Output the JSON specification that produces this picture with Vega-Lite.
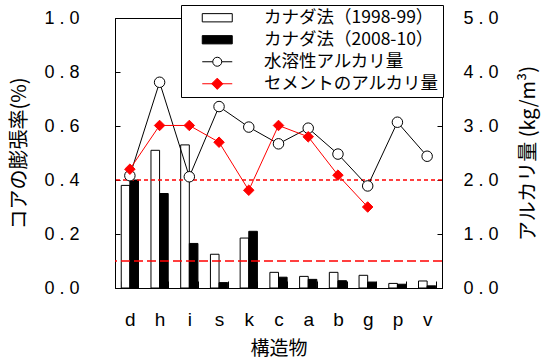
{
  "$schema": "https://vega.github.io/schema/vega-lite/v6.json",
  "autosize": {"type": "none"},
  "width": 327,
  "height": 270,
  "padding": {"left": 115, "top": 18, "right": 108, "bottom": 73},
  "background": "white",
  "config": {
    "view": {"stroke": "black", "strokeWidth": 1},
    "axis": {
      "grid": false,
      "domainColor": "black",
      "domainWidth": 1,
      "tickColor": "black",
      "tickWidth": 1,
      "labelColor": "black",
      "titleColor": "black",
      "labelFont": "Liberation Sans",
      "titleFont": "Noto Sans CJK JP",
      "titleFontWeight": "normal",
      "labelOverlap": false
    },
    "legend": {
      "orient": "none", "legendX": 66, "legendY": -13,
      "labelFont": "Noto Sans CJK JP", "labelFontSize": 17.5, "labelColor": "black", "labelLimit": 400,
      "symbolSize": 225, "symbolStrokeWidth": 1, "symbolOpacity": 1, "symbolOffset": 23.5, "labelOffset": 38,
      "rowPadding": 3, "padding": 4,
      "strokeColor": "black", "fillColor": "white"
    }
  },
  "datasets": {
    "bars": [
      {"cat": "d", "series": "カナダ法（1998-99）", "value": 0.38},
      {"cat": "d", "series": "カナダ法（2008-10）", "value": 0.40},
      {"cat": "h", "series": "カナダ法（1998-99）", "value": 0.51},
      {"cat": "h", "series": "カナダ法（2008-10）", "value": 0.35},
      {"cat": "i", "series": "カナダ法（1998-99）", "value": 0.53},
      {"cat": "i", "series": "カナダ法（2008-10）", "value": 0.165},
      {"cat": "s", "series": "カナダ法（1998-99）", "value": 0.125},
      {"cat": "s", "series": "カナダ法（2008-10）", "value": 0.02},
      {"cat": "k", "series": "カナダ法（1998-99）", "value": 0.185},
      {"cat": "k", "series": "カナダ法（2008-10）", "value": 0.21},
      {"cat": "c", "series": "カナダ法（1998-99）", "value": 0.058},
      {"cat": "c", "series": "カナダ法（2008-10）", "value": 0.04},
      {"cat": "a", "series": "カナダ法（1998-99）", "value": 0.043},
      {"cat": "a", "series": "カナダ法（2008-10）", "value": 0.032},
      {"cat": "b", "series": "カナダ法（1998-99）", "value": 0.058},
      {"cat": "b", "series": "カナダ法（2008-10）", "value": 0.027},
      {"cat": "g", "series": "カナダ法（1998-99）", "value": 0.047},
      {"cat": "g", "series": "カナダ法（2008-10）", "value": 0.022},
      {"cat": "p", "series": "カナダ法（1998-99）", "value": 0.017},
      {"cat": "p", "series": "カナダ法（2008-10）", "value": 0.014},
      {"cat": "v", "series": "カナダ法（1998-99）", "value": 0.026},
      {"cat": "v", "series": "カナダ法（2008-10）", "value": 0.008}
    ],
    "alk": [
      {"cat": "d", "series": "水溶性アルカリ量", "value": 2.08},
      {"cat": "h", "series": "水溶性アルカリ量", "value": 3.81},
      {"cat": "i", "series": "水溶性アルカリ量", "value": 2.06},
      {"cat": "s", "series": "水溶性アルカリ量", "value": 3.36},
      {"cat": "k", "series": "水溶性アルカリ量", "value": 2.98},
      {"cat": "c", "series": "水溶性アルカリ量", "value": 2.67},
      {"cat": "a", "series": "水溶性アルカリ量", "value": 2.96},
      {"cat": "b", "series": "水溶性アルカリ量", "value": 2.48},
      {"cat": "g", "series": "水溶性アルカリ量", "value": 1.89},
      {"cat": "p", "series": "水溶性アルカリ量", "value": 3.07},
      {"cat": "v", "series": "水溶性アルカリ量", "value": 2.44},
      {"cat": "d", "series": "セメントのアルカリ量", "value": 2.20},
      {"cat": "h", "series": "セメントのアルカリ量", "value": 3.01},
      {"cat": "i", "series": "セメントのアルカリ量", "value": 3.01},
      {"cat": "s", "series": "セメントのアルカリ量", "value": 2.70},
      {"cat": "k", "series": "セメントのアルカリ量", "value": 1.81},
      {"cat": "c", "series": "セメントのアルカリ量", "value": 3.01},
      {"cat": "a", "series": "セメントのアルカリ量", "value": 2.80},
      {"cat": "b", "series": "セメントのアルカリ量", "value": 2.09},
      {"cat": "g", "series": "セメントのアルカリ量", "value": 1.50}
    ],
    "refs": [
      {"v": 0.4, "d": "short"},
      {"v": 0.1, "d": "long"}
    ]
  },
  "layer": [
    {
      "layer": [
        {
          "data": {"name": "bars"},
          "mark": {"type": "bar", "strokeWidth": 1},
          "encoding": {
            "x": {
              "field": "cat", "type": "nominal",
              "sort": ["d", "h", "i", "s", "k", "c", "a", "b", "g", "p", "v"],
              "scale": {"paddingInner": 0.42, "paddingOuter": 0.21},
              "title": "構造物",
              "axis": {"labelAngle": 0, "tickBand": "extent", "tickSize": -7, "labelPadding": 29, "labelFontSize": 19, "titleFontSize": 19, "titlePadding": 10}
            },
            "xOffset": {"field": "series", "type": "nominal", "sort": ["カナダ法（1998-99）", "カナダ法（2008-10）"]},
            "y": {
              "field": "value", "type": "quantitative",
              "scale": {"domain": [0, 1], "nice": false},
              "title": "コアの膨張率(%)",
              "axis": {"orient": "left", "values": [0, 0.1, 0.2, 0.3, 0.4, 0.5, 0.6, 0.7, 0.8, 0.9, 1.0], "format": ".1f", "labelExpr": "replace(datum.label, '.', ' . ')", "labelOverlap": false, "tickSize": -5, "labelPadding": 41, "labelFontSize": 18, "titleFontSize": 20, "titlePadding": 14}
            },
            "fill": {
              "field": "series", "type": "nominal",
              "scale": {"domain": ["カナダ法（1998-99）", "カナダ法（2008-10）", "水溶性アルカリ量", "セメントのアルカリ量"], "range": ["white", "black", "white", "red"]},
              "legend": {"title": null, "labelExpr": "datum.label + ' '"}
            },
            "stroke": {
              "field": "series", "type": "nominal",
              "scale": {"domain": ["カナダ法（1998-99）", "カナダ法（2008-10）", "水溶性アルカリ量", "セメントのアルカリ量"], "range": ["black", "black", "black", "red"]},
              "legend": {"title": null, "labelExpr": "datum.label + ' '"}
            }
          }
        },
        {
          "data": {"name": "bars"},
          "mark": {"type": "point", "opacity": 0},
          "encoding": {
            "x": {
              "field": "cat", "type": "nominal",
              "sort": ["d", "h", "i", "s", "k", "c", "a", "b", "g", "p", "v"],
              "title": "構造物"
            },
            "y": {"field": "value", "type": "quantitative"},
            "shape": {
              "field": "series", "type": "nominal",
              "scale": {"domain": ["カナダ法（1998-99）", "カナダ法（2008-10）", "水溶性アルカリ量", "セメントのアルカリ量"], "range": ["M-2,-0.55H2V0.55H-2Z", "M-2,-0.55H2V0.55H-2Z", "M-2,0H-0.6M0.6,0H2M0.6,0A0.6,0.6,0,1,1,-0.6,0A0.6,0.6,0,1,1,0.6,0Z", "M-2,0H2M0,-0.75L0.75,0L0,0.75L-0.75,0Z"]},
              "legend": {"title": null, "labelExpr": "datum.label + ' '"}
            }
          }
        },
        {
          "data": {"name": "refs"},
          "mark": {"type": "rule", "color": "red", "strokeWidth": 1.3},
          "encoding": {
            "y": {"field": "v", "type": "quantitative"},
            "strokeDash": {"field": "d", "type": "nominal", "scale": {"domain": ["short", "long"], "range": [[4, 3], [9, 4]]}, "legend": null}
          }
        }
      ]
    },
    {
      "layer": [
        {
          "data": {"name": "alk"},
          "mark": {"type": "line", "strokeWidth": 1},
          "encoding": {
            "x": {
              "field": "cat", "type": "nominal",
              "sort": ["d", "h", "i", "s", "k", "c", "a", "b", "g", "p", "v"],
              "title": "構造物"
            },
            "y": {
              "field": "value", "type": "quantitative",
              "scale": {"domain": [0, 5], "nice": false},
              "title": "アルカリ量 (kg/m³)",
              "axis": {"orient": "right", "values": [0, 0.5, 1, 1.5, 2, 2.5, 3, 3.5, 4, 4.5, 5], "format": ".1f", "labelExpr": "replace(datum.label, '.', ' . ')", "labelOverlap": false, "tickSize": -5, "labelPadding": 26, "labelFontSize": 18, "titleFontSize": 20, "titlePadding": 20, "titleAngle": -90, "titleBaseline": "top"}
            },
            "stroke": {
              "field": "series", "type": "nominal",
              "scale": {"domain": ["水溶性アルカリ量", "セメントのアルカリ量"], "range": ["black", "red"]},
              "legend": null
            }
          }
        },
        {
          "data": {"name": "alk"},
          "mark": {"type": "point", "filled": true, "opacity": 1, "strokeWidth": 1, "size": 110},
          "encoding": {
            "x": {
              "field": "cat", "type": "nominal",
              "sort": ["d", "h", "i", "s", "k", "c", "a", "b", "g", "p", "v"],
              "title": "構造物"
            },
            "y": {"field": "value", "type": "quantitative"},
            "fill": {
              "field": "series", "type": "nominal",
              "scale": {"domain": ["水溶性アルカリ量", "セメントのアルカリ量"], "range": ["white", "red"]},
              "legend": null
            },
            "stroke": {"field": "series", "type": "nominal", "legend": null},
            "shape": {"field": "series", "type": "nominal", "scale": {"domain": ["水溶性アルカリ量", "セメントのアルカリ量"], "range": ["circle", "diamond"]}, "legend": null}
          }
        }
      ]
    }
  ],
  "resolve": {"scale": {"y": "independent", "shape": "independent", "fill": "independent", "stroke": "independent"}}
}
